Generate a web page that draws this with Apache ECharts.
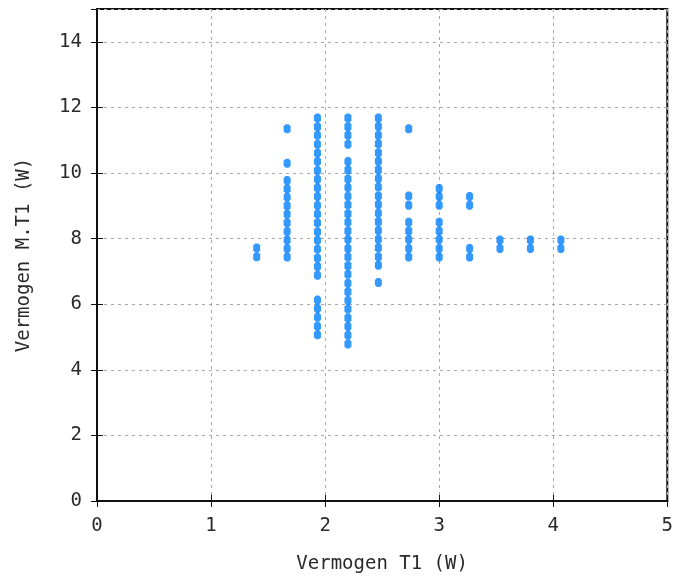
<!DOCTYPE html>
<html>
<head>
<meta charset="utf-8">
<script src="https://cdn.jsdelivr.net/npm/echarts@6/dist/echarts.min.js"></script>
<style>
html,body{margin:0;padding:0;background:#fff;}
#chart{width:676px;height:579px;}
</style>
</head>
<body>
<div id="chart"></div>
<script>
// x positions of the measurement columns (W)
const columnX = [1.4, 1.667, 1.933, 2.2, 2.467, 2.733, 3.0, 3.267, 3.533, 3.8, 4.067];
// y values (W) of the points in each column
const col1 = [7.45, 7.71];
const col2 = [7.44, 7.70, 7.96, 8.22, 8.48, 8.74, 9.0, 9.26, 9.52, 9.77, 10.30, 11.35];
const col3 = [5.07, 5.33, 5.6, 5.87, 6.13,
  6.88, 7.15, 7.41, 7.68, 7.95, 8.21, 8.48, 8.75, 9.01, 9.28, 9.55, 9.81, 10.08, 10.35, 10.61, 10.88, 11.15, 11.41, 11.68];
const col4 = [4.79, 5.05, 5.32, 5.58, 5.85, 6.11, 6.38, 6.64, 6.91, 7.17, 7.44, 7.7, 7.97, 8.23, 8.5, 8.76, 9.03, 9.29, 9.56, 9.82, 10.09, 10.35,
  10.88, 11.15, 11.41, 11.68];
const col5 = [6.66, 7.19, 7.45, 7.72, 7.98, 8.25, 8.51, 8.77, 9.04, 9.3, 9.57, 9.83, 10.1, 10.36, 10.62, 10.89, 11.15, 11.42, 11.68];
const col6 = [7.44, 7.7, 7.97, 8.23, 8.5, 9.02, 9.3, 11.35];
const col7 = [7.44, 7.7, 7.97, 8.23, 8.5, 9.02, 9.28, 9.53];
const col8 = [7.44, 7.7, 9.02, 9.28];
const col9 = [7.7, 7.96];
const col10 = [7.7, 7.96];
const col11 = [7.7, 7.96];
const columnsY = [col1, col2, col3, col4, col5, col6, col7, col8, col9, col10, col11];

const xTicks = [0, 1, 2, 3, 4, 5];
const yTicks = [0, 2, 4, 6, 8, 10, 12, 14];

const points = [];
columnX.forEach((x, i) => columnsY[i].forEach(y => points.push([x, y])));

const FONT = '"DejaVu Sans Mono", "Liberation Mono", monospace';
const FS = 19;
const TXT = '#2a2a2a';
const gridLine = {show: true, lineStyle: {color: '#a8a8a8', type: [3, 4], width: 1}};

const chart = echarts.init(document.getElementById('chart'), null, {renderer: 'canvas'});
chart.setOption({
  animation: false,
  backgroundColor: '#ffffff',
  grid: {left: 97, right: 8, top: 9, bottom: 78, show: true, borderColor: '#111', borderWidth: 2, backgroundColor: 'transparent'},
  xAxis: [{
    type: 'value', min: 0, max: 5, interval: 1,
    name: 'Vermogen T1 (W)', nameLocation: 'middle', nameGap: 54,
    nameTextStyle: {fontFamily: FONT, fontSize: FS, color: TXT},
    axisLine: {show: true, lineStyle: {color: '#111', width: 2}},
    axisTick: {show: true, inside: true, length: 6, lineStyle: {color: '#111'}},
    axisLabel: {fontFamily: FONT, fontSize: FS, color: TXT, margin: 16,
      formatter: v => xTicks.includes(v) ? String(v) : ''},
    splitLine: gridLine
  }, {
    type: 'value', min: 0, max: 5, interval: 1, position: 'top',
    axisLine: {show: true, lineStyle: {color: '#111', width: 2}},
    axisTick: {show: true, inside: true, length: 6, lineStyle: {color: '#111'}},
    axisLabel: {show: false}, splitLine: {show: false}
  }],
  yAxis: [{
    type: 'value', min: 0, max: 15, interval: 2,
    name: 'Vermogen M.T1 (W)', nameLocation: 'middle', nameGap: 63,
    nameTextStyle: {fontFamily: FONT, fontSize: FS, color: TXT},
    axisLine: {show: true, lineStyle: {color: '#111', width: 2}},
    axisTick: {show: true, inside: true, length: 6, lineStyle: {color: '#111'}},
    axisLabel: {fontFamily: FONT, fontSize: FS, color: TXT, margin: 15, showMaxLabel: false,
      formatter: v => yTicks.includes(v) ? String(v) : ''},
    splitLine: gridLine
  }, {
    type: 'value', min: 0, max: 15, interval: 2, position: 'right',
    axisLine: {show: true, lineStyle: {color: '#111', width: 2}},
    axisTick: {show: true, inside: true, length: 6, lineStyle: {color: '#111'}},
    axisLabel: {show: false}, splitLine: {show: false}
  }],
  series: [{
    type: 'scatter',
    xAxisIndex: 0, yAxisIndex: 0,
    data: points,
    symbol: 'path://M2,0 L5,0 L7,2 L7,7 L5,9 L2,9 L0,7 L0,2 Z',
    symbolSize: [7, 9],
    itemStyle: {color: '#0080ff'},
    silent: true
  }]
});
</script>
</body>
</html>
